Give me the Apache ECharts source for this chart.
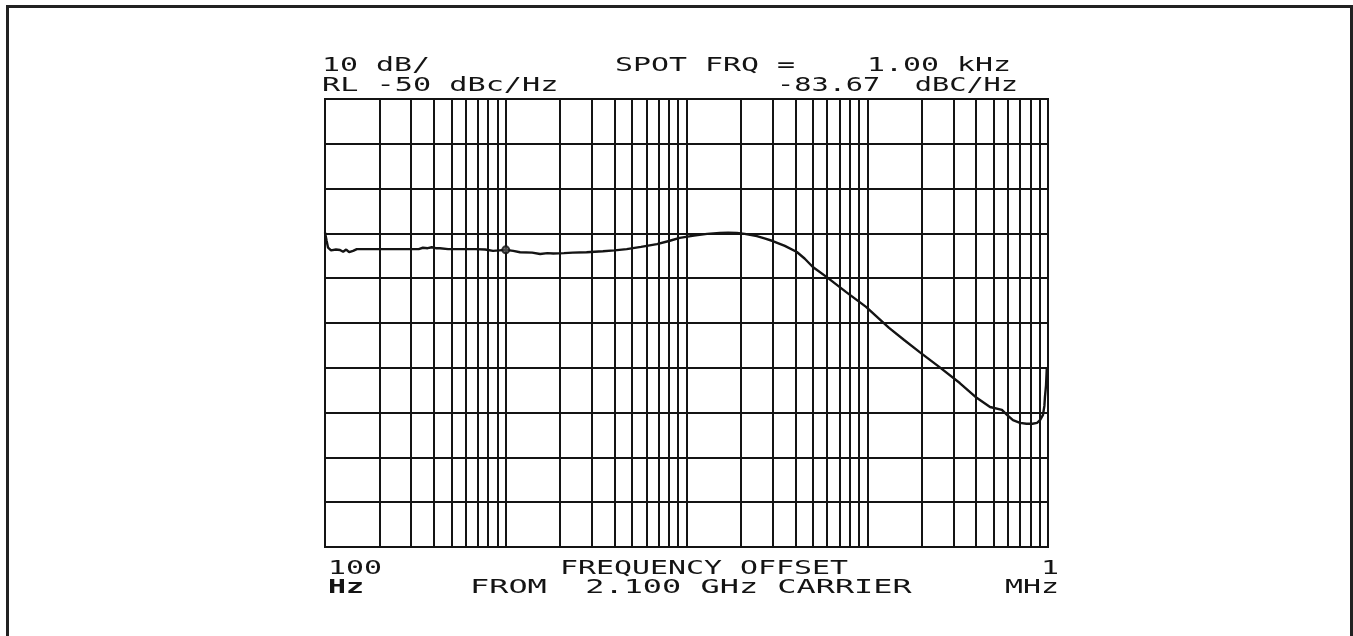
<!DOCTYPE html>
<html>
<head>
<meta charset="utf-8">
<title>Phase noise</title>
<script src="https://cdn.jsdelivr.net/npm/echarts@6/dist/echarts.min.js"></script>
<style>
  html, body { margin: 0; padding: 0; background: #fff; }
  #chart { width: 1353px; height: 636px; }
</style>
</head>
<body>
<div id="chart"></div>
<script>
// Offset frequency (Hz) of each trace point
const freqHz = [
  100, 102, 104, 108, 115, 121, 126, 131, 136, 143, 150, 170, 200, 260, 330, 348,
  370, 390, 410, 432, 480, 560, 680, 770, 787, 850, 920, 1000, 1100, 1200, 1400,
  1550, 1700, 1830, 2100, 2350, 2800, 3450, 4000, 4670, 5600, 6860, 8000, 9170,
  11000, 13000, 15300, 17000, 19000, 21000, 24500, 27000, 30000, 35000, 40800,
  45000, 50000, 59500, 76500, 98500, 132000, 160000, 195000, 250000, 325000,
  403000, 478000, 556000, 593000, 640000, 700000, 760000, 820000, 870000, 903000,
  938000, 955000, 962000, 975000, 985000
];
// Measured single-sideband phase noise (dBc/Hz)
const levelDbc = [
  -79.8, -81.6, -83.2, -83.8, -83.6, -83.7, -84.1, -83.6, -84.2, -83.9, -83.5, -83.5,
  -83.5, -83.5, -83.5, -83.2, -83.3, -83.1, -83.3, -83.3, -83.5, -83.5, -83.5, -83.6,
  -83.85, -83.9, -83.8, -83.67, -83.9, -84.2, -84.3, -84.6, -84.4, -84.5, -84.4,
  -84.3, -84.2, -84.0, -83.8, -83.5, -83.0, -82.4, -81.7, -81.0, -80.5, -80.1,
  -79.9, -79.85, -79.9, -80.1, -80.6, -81.1, -81.7, -82.8, -84.15, -85.6, -87.5,
  -89.7, -93.1, -96.4, -101.1, -103.8, -106.5, -109.8, -113.4, -116.7, -118.75,
  -119.4, -120.5, -121.7, -122.3, -122.5, -122.5, -122.3, -121.7, -120.5, -118.5,
  -116.5, -114.0, -110.0
];
// Spot-frequency marker
const spotFreqHz = 1000;
const spotLevelDbc = -83.67;

// Axis ranges: four decades of offset, ten 10 dB divisions below the reference level
const xRange = [100, 1000000];
const yRange = [-150, -50];
const yStep = 10;
// Intermediate log-grid frequencies (2..9 within each decade)
const minorGridHz = [];
for (let d = 100; d < 1000000; d *= 10) {
  for (let k = 2; k <= 9; k++) minorGridHz.push(k * d);
}

// Annotation texts
const headerLeft = ['10 dB/', 'RL -50 dBc/Hz'];
const headerRight = ['SPOT FRQ =    1.00 kHz', '-83.67  dBC/Hz'];
const axisStart = ['100', 'Hz'];
const axisTitle = ['FREQUENCY OFFSET', 'FROM  2.100 GHz CARRIER'];
const axisEnd = ['1', 'MHz'];

const ink = '#141414';
const FONT = '20px "DejaVu Sans Mono", "Liberation Mono", monospace';

function label(text, x, y, sx, align, weight) {
  return {
    type: 'text',
    x: x, y: y, scaleX: sx, scaleY: 1,
    silent: true,
    style: {
      text: text,
      font: (weight ? weight + ' ' : '') + FONT,
      fill: ink,
      align: align || 'left',
      verticalAlign: 'middle'
    }
  };
}

const chart = echarts.init(document.getElementById('chart'), null, { renderer: 'canvas' });

chart.setOption({
  backgroundColor: '#ffffff',
  animation: false,
  grid: {
    left: 325, top: 99, width: 723, height: 448,
    show: true, borderColor: ink, borderWidth: 2, backgroundColor: 'transparent'
  },
  xAxis: {
    type: 'log', logBase: 10, min: xRange[0], max: xRange[1],
    axisLine: { show: true, lineStyle: { color: ink, width: 2 } },
    axisTick: { show: false },
    axisLabel: { show: false },
    splitLine: { show: true, lineStyle: { color: ink, width: 2 } }
  },
  yAxis: {
    type: 'value', min: yRange[0], max: yRange[1], interval: yStep,
    axisLine: { show: true, lineStyle: { color: ink, width: 2 } },
    axisTick: { show: false },
    axisLabel: { show: false },
    splitLine: { show: true, lineStyle: { color: ink, width: 2 } }
  },
  series: [
    {
      type: 'line',
      data: [],
      silent: true,
      markLine: {
        silent: true,
        symbol: 'none',
        label: { show: false },
        lineStyle: { color: ink, width: 2, type: 'solid' },
        data: minorGridHz.map(f => ({ xAxis: f }))
      }
    },
    {
      type: 'line',
      data: freqHz.map((f, i) => [f, levelDbc[i]]),
      showSymbol: false,
      silent: true,
      lineStyle: { color: ink, width: 2.4 },
      z: 5
    },
    {
      type: 'scatter',
      data: [[spotFreqHz, spotLevelDbc]],
      symbol: 'circle',
      symbolSize: 7,
      silent: true,
      itemStyle: { color: '#555555', borderColor: ink, borderWidth: 2 },
      z: 6
    }
  ],
  graphic: [
    {
      type: 'rect', silent: true,
      shape: { x: 7.5, y: 6.5, width: 1344, height: 660 },
      style: { fill: 'none', stroke: '#222', lineWidth: 3 }
    },
    label(headerLeft[0], 322, 65.5, 1.495),
    label(headerLeft[1], 322, 86, 1.51),
    label(headerRight[0], 615, 65.5, 1.495),
    label(headerRight[1], 777, 86, 1.43),
    label(axisStart[0], 328, 569, 1.495),
    label(axisStart[1], 328, 588, 1.495, 'left', 'bold'),
    label(axisTitle[0], 560, 569, 1.495),
    label(axisTitle[1], 470, 588, 1.595),
    label(axisEnd[0], 1059, 569, 1.495, 'right'),
    label(axisEnd[1], 1059, 588, 1.495, 'right')
  ]
});
</script>
</body>
</html>
